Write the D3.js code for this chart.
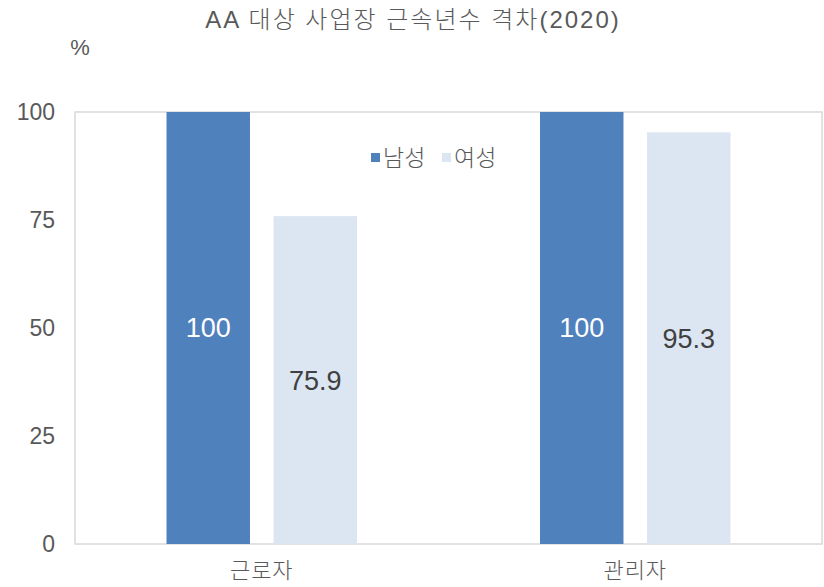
<!DOCTYPE html>
<html><head><meta charset="utf-8">
<script src="https://cdn.jsdelivr.net/npm/d3@7"></script>
<style>body{margin:0;background:#fff}svg{display:block}text{font-family:"Liberation Sans","Noto Sans CJK KR",sans-serif}</style>
</head><body><svg id="c" width="824" height="587"></svg>
<script>
const categories = ["근로자", "관리자"];
const seriesNames = ["남성", "여성"];
const male = [100, 100];
const female = [75.9, 95.3];
const yTicks = [0, 25, 50, 75, 100];
const colors = ["#4F81BD", "#DCE6F2"];
const labelColors = ["#ffffff", "#404040"];

const svg = d3.select("#c");
const L = 75, R = 822, T = 112, B = 544;
const x = d3.scaleBand().domain(categories).range([L, R]);
const xs = d3.scaleBand().domain(seriesNames).range([0, x.bandwidth()]).paddingInner(0.22).paddingOuter(0.855);
const y = d3.scaleLinear().domain([0, 100]).range([B, T]);

svg.append("text").attr("x", 413).attr("y", 28).attr("text-anchor", "middle")
  .attr("font-size", 24).attr("letter-spacing", 2).attr("font-weight", 300).attr("fill", "#595959").text("AA 대상 사업장 근속년수 격차(2020)");
svg.append("text").attr("x", 80).attr("y", 55).attr("text-anchor", "middle")
  .attr("font-size", 22).attr("fill", "#595959").text("%");

svg.append("rect").attr("x", L).attr("y", T).attr("width", R - L).attr("height", B - T)
  .attr("fill", "none").attr("stroke", "#d9d9d9").attr("stroke-width", 1.5);

const yAxis = svg.append("g").attr("transform", `translate(${L},0)`)
  .call(d3.axisLeft(y).tickValues(yTicks).tickSize(0).tickPadding(20));
yAxis.select(".domain").remove();
yAxis.selectAll("text").attr("font-size", 23).attr("fill", "#595959").attr("font-family", "Liberation Sans");

const xAxis = svg.append("g").attr("transform", `translate(0,${B})`)
  .call(d3.axisBottom(x).tickSize(0).tickPadding(18));
xAxis.select(".domain").remove();
xAxis.selectAll("text").attr("font-size", 22).attr("font-weight", 300).attr("letter-spacing", 1).attr("fill", "#595959").attr("font-family", "Noto Sans CJK KR");

const data = [male, female];
data.forEach((vals, si) => {
  const g = svg.append("g");
  g.selectAll("rect").data(vals).join("rect")
    .attr("x", (d, i) => x(categories[i]) + xs(seriesNames[si]))
    .attr("width", xs.bandwidth())
    .attr("y", d => y(d)).attr("height", d => B - y(d))
    .attr("fill", colors[si]);
  g.selectAll("text").data(vals).join("text")
    .attr("x", (d, i) => x(categories[i]) + xs(seriesNames[si]) + xs.bandwidth() / 2)
    .attr("y", d => (y(d) + B) / 2)
    .attr("dy", "0.35em").attr("text-anchor", "middle")
    .attr("font-size", 27).attr("fill", labelColors[si])
    .text(d => d);
});

// legend
const leg = svg.append("g");
const legX = [371, 442];
seriesNames.forEach((n, i) => {
  leg.append("rect").attr("x", legX[i]).attr("y", 153).attr("width", 9).attr("height", 9).attr("fill", colors[i]);
  leg.append("text").attr("x", legX[i] + 12).attr("y", 158).attr("dy", "0.35em")
    .attr("font-size", 23).attr("font-weight", 300).attr("fill", "#595959").attr("font-family", "Noto Sans CJK KR").text(n);
});
</script></body></html>
